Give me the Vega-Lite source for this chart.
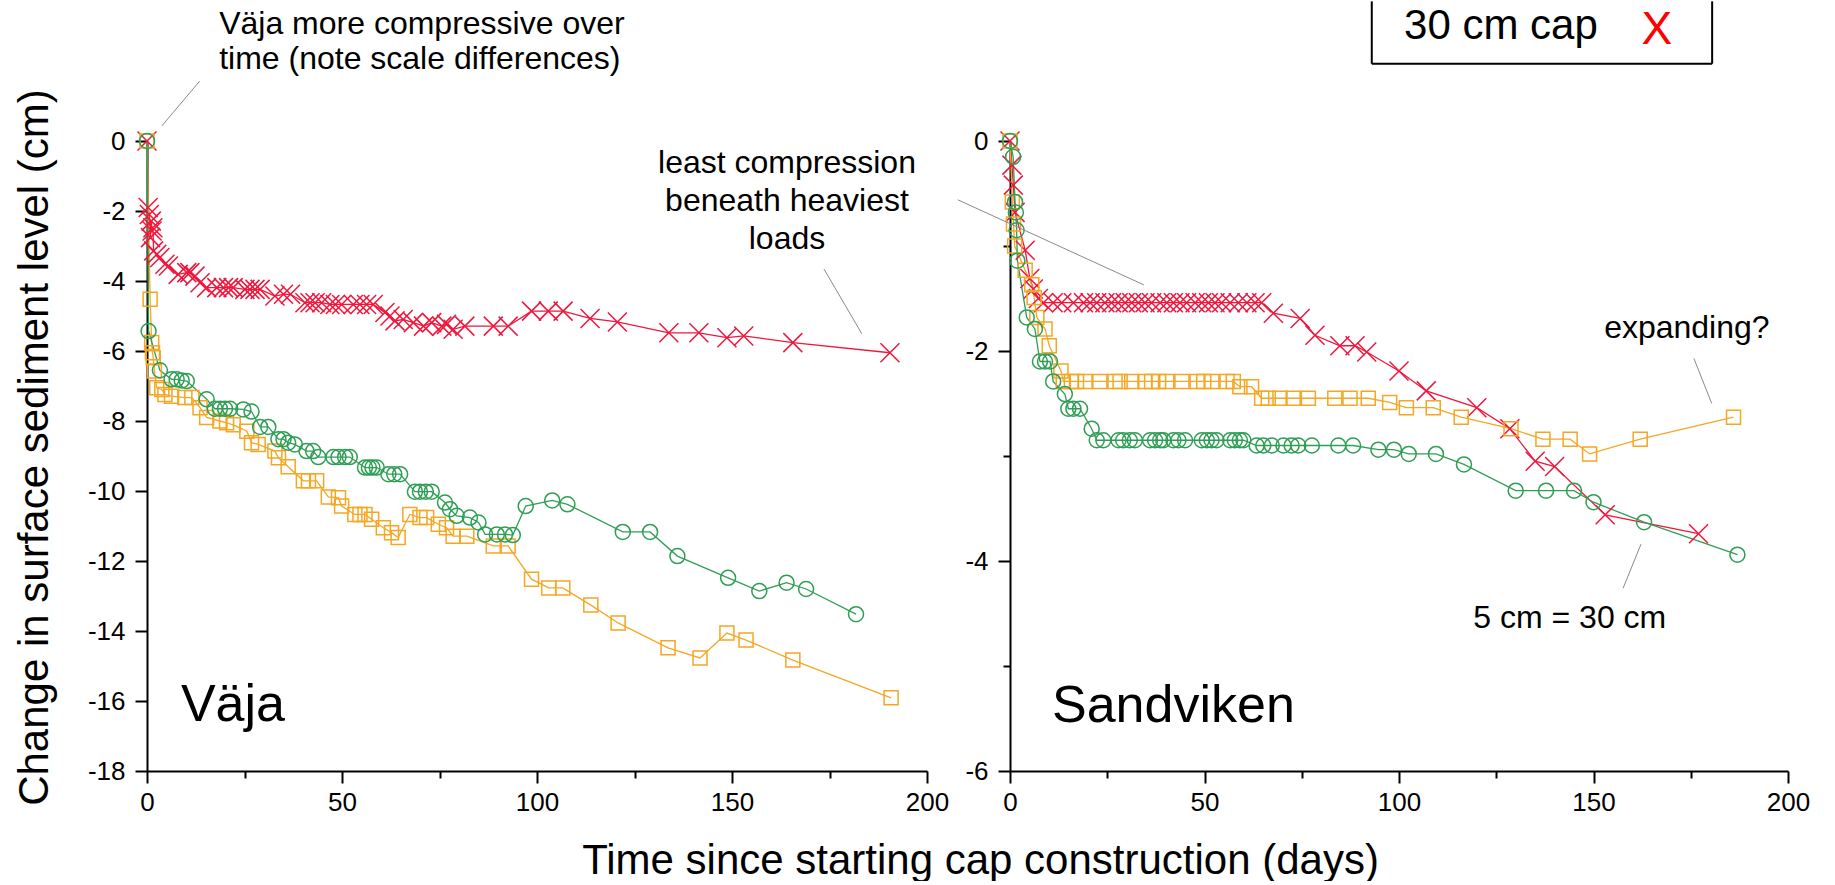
{
  "$schema": "https://vega.github.io/schema/vega-lite/v6.json",
  "background": "white",
  "padding": {"left": 12, "top": 0, "right": 5, "bottom": 0},
  "spacing": 83,
  "bounds": "flush",
  "config": {
    "font": "Liberation Sans",
    "view": {"stroke": null},
    "axis": {
      "domainColor": "#000", "domainWidth": 2, "tickColor": "#000", "tickWidth": 2,
      "labelFont": "Liberation Sans", "labelFontSize": 26, "labelColor": "#000",
      "titleFont": "Liberation Sans", "titleFontSize": 42, "titleFontWeight": "normal", "titleColor": "#000",
      "grid": false, "labelFlush": false, "labelOverlap": false
    },
    "axisX": {"labelPadding": 6},
    "axisY": {"labelPadding": 10}
  },
  "datasets": {
    "vaja": [
      {"cap":"30 cm","day":0,"cm":0},{"cap":"30 cm","day":0.3,"cm":-1.9},{"cap":"30 cm","day":0.6,"cm":-2.1},{"cap":"30 cm","day":0.9,"cm":-2.76},{"cap":"30 cm","day":1.1,"cm":-2.29},{"cap":"30 cm","day":1.3,"cm":-2.57},{"cap":"30 cm","day":1.5,"cm":-2.48},{"cap":"30 cm","day":1.7,"cm":-3.14},{"cap":"30 cm","day":2.5,"cm":-3.24},{"cap":"30 cm","day":3.3,"cm":-3.33},{"cap":"30 cm","day":4.6,"cm":-3.52},{"cap":"30 cm","day":5.5,"cm":-3.57},{"cap":"30 cm","day":8,"cm":-3.81},{"cap":"30 cm","day":10.2,"cm":-3.76},{"cap":"30 cm","day":11,"cm":-3.76},{"cap":"30 cm","day":12.3,"cm":-3.86},{"cap":"30 cm","day":13.6,"cm":-4.05},{"cap":"30 cm","day":15.3,"cm":-4.19},{"cap":"30 cm","day":17.9,"cm":-4.19},{"cap":"30 cm","day":19.6,"cm":-4.19},{"cap":"30 cm","day":20.9,"cm":-4.19},{"cap":"30 cm","day":22.1,"cm":-4.19},{"cap":"30 cm","day":25.1,"cm":-4.24},{"cap":"30 cm","day":26.4,"cm":-4.24},{"cap":"30 cm","day":27.7,"cm":-4.24},{"cap":"30 cm","day":29,"cm":-4.24},{"cap":"30 cm","day":32.8,"cm":-4.43},{"cap":"30 cm","day":35,"cm":-4.38},{"cap":"30 cm","day":36.8,"cm":-4.38},{"cap":"30 cm","day":40.5,"cm":-4.62},{"cap":"30 cm","day":41.8,"cm":-4.62},{"cap":"30 cm","day":43.1,"cm":-4.62},{"cap":"30 cm","day":44.8,"cm":-4.62},{"cap":"30 cm","day":46.9,"cm":-4.67},{"cap":"30 cm","day":48.3,"cm":-4.67},{"cap":"30 cm","day":49.9,"cm":-4.67},{"cap":"30 cm","day":52.9,"cm":-4.67},{"cap":"30 cm","day":54.6,"cm":-4.67},{"cap":"30 cm","day":56.3,"cm":-4.67},{"cap":"30 cm","day":58,"cm":-4.67},{"cap":"30 cm","day":61,"cm":-4.9},{"cap":"30 cm","day":62.3,"cm":-5.0},{"cap":"30 cm","day":63.6,"cm":-5.14},{"cap":"30 cm","day":65.7,"cm":-5.1},{"cap":"30 cm","day":68.3,"cm":-5.19},{"cap":"30 cm","day":70.9,"cm":-5.29},{"cap":"30 cm","day":73,"cm":-5.19},{"cap":"30 cm","day":75.6,"cm":-5.29},{"cap":"30 cm","day":76.8,"cm":-5.24},{"cap":"30 cm","day":78.5,"cm":-5.38},{"cap":"30 cm","day":81.5,"cm":-5.29},{"cap":"30 cm","day":88.8,"cm":-5.29},{"cap":"30 cm","day":92.6,"cm":-5.29},{"cap":"30 cm","day":98.6,"cm":-4.86},{"cap":"30 cm","day":102.9,"cm":-4.86},{"cap":"30 cm","day":106.7,"cm":-4.86},{"cap":"30 cm","day":113.6,"cm":-5.07},{"cap":"30 cm","day":120.6,"cm":-5.17},{"cap":"30 cm","day":133.8,"cm":-5.48},{"cap":"30 cm","day":141.5,"cm":-5.48},{"cap":"30 cm","day":148.7,"cm":-5.62},{"cap":"30 cm","day":153,"cm":-5.57},{"cap":"30 cm","day":165.6,"cm":-5.76},{"cap":"30 cm","day":190.5,"cm":-6.05},
      {"cap":"15 cm","day":0,"cm":0},{"cap":"15 cm","day":0.8,"cm":-4.52},{"cap":"15 cm","day":1.2,"cm":-5.76},{"cap":"15 cm","day":1.4,"cm":-6.05},{"cap":"15 cm","day":1.6,"cm":-6.19},{"cap":"15 cm","day":1.9,"cm":-6.57},{"cap":"15 cm","day":2.5,"cm":-7.05},{"cap":"15 cm","day":3.8,"cm":-7.1},{"cap":"15 cm","day":4.6,"cm":-7.24},{"cap":"15 cm","day":6.3,"cm":-7.29},{"cap":"15 cm","day":9.7,"cm":-7.33},{"cap":"15 cm","day":11.5,"cm":-7.33},{"cap":"15 cm","day":13.6,"cm":-7.62},{"cap":"15 cm","day":15.3,"cm":-7.9},{"cap":"15 cm","day":18.7,"cm":-8.0},{"cap":"15 cm","day":20.4,"cm":-8.05},{"cap":"15 cm","day":22.1,"cm":-8.11},{"cap":"15 cm","day":25.6,"cm":-8.29},{"cap":"15 cm","day":26.8,"cm":-8.62},{"cap":"15 cm","day":28.5,"cm":-8.67},{"cap":"15 cm","day":32.8,"cm":-8.86},{"cap":"15 cm","day":33.7,"cm":-9.05},{"cap":"15 cm","day":36.2,"cm":-9.31},{"cap":"15 cm","day":40.1,"cm":-9.71},{"cap":"15 cm","day":41.4,"cm":-9.71},{"cap":"15 cm","day":43.5,"cm":-9.71},{"cap":"15 cm","day":46.5,"cm":-10.17},{"cap":"15 cm","day":49.1,"cm":-10.19},{"cap":"15 cm","day":49.9,"cm":-10.43},{"cap":"15 cm","day":53.3,"cm":-10.67},{"cap":"15 cm","day":54.6,"cm":-10.67},{"cap":"15 cm","day":55.9,"cm":-10.67},{"cap":"15 cm","day":57.6,"cm":-10.81},{"cap":"15 cm","day":60.6,"cm":-11.05},{"cap":"15 cm","day":62.7,"cm":-11.19},{"cap":"15 cm","day":64.4,"cm":-11.33},{"cap":"15 cm","day":67.4,"cm":-10.67},{"cap":"15 cm","day":70,"cm":-10.76},{"cap":"15 cm","day":71.7,"cm":-10.76},{"cap":"15 cm","day":74.7,"cm":-10.95},{"cap":"15 cm","day":76.8,"cm":-11.05},{"cap":"15 cm","day":78.5,"cm":-11.29},{"cap":"15 cm","day":82,"cm":-11.29},{"cap":"15 cm","day":88.8,"cm":-11.57},{"cap":"15 cm","day":92.6,"cm":-11.57},{"cap":"15 cm","day":98.6,"cm":-12.52},{"cap":"15 cm","day":103,"cm":-12.77},{"cap":"15 cm","day":106.6,"cm":-12.77},{"cap":"15 cm","day":113.8,"cm":-13.26},{"cap":"15 cm","day":120.8,"cm":-13.77},{"cap":"15 cm","day":133.6,"cm":-14.48},{"cap":"15 cm","day":141.8,"cm":-14.77},{"cap":"15 cm","day":148.7,"cm":-14.06},{"cap":"15 cm","day":153.6,"cm":-14.26},{"cap":"15 cm","day":165.6,"cm":-14.83},{"cap":"15 cm","day":190.8,"cm":-15.91},
      {"cap":"5 cm","day":0,"cm":0},{"cap":"5 cm","day":0.4,"cm":-5.43},{"cap":"5 cm","day":3.3,"cm":-6.55},{"cap":"5 cm","day":6.3,"cm":-6.81},{"cap":"5 cm","day":7.6,"cm":-6.81},{"cap":"5 cm","day":8.9,"cm":-6.84},{"cap":"5 cm","day":10.2,"cm":-6.86},{"cap":"5 cm","day":15.3,"cm":-7.38},{"cap":"5 cm","day":17.4,"cm":-7.65},{"cap":"5 cm","day":18.7,"cm":-7.65},{"cap":"5 cm","day":20,"cm":-7.65},{"cap":"5 cm","day":21.3,"cm":-7.65},{"cap":"5 cm","day":24.7,"cm":-7.67},{"cap":"5 cm","day":26.8,"cm":-7.73},{"cap":"5 cm","day":29,"cm":-8.17},{"cap":"5 cm","day":31.1,"cm":-8.17},{"cap":"5 cm","day":33.7,"cm":-8.52},{"cap":"5 cm","day":35,"cm":-8.52},{"cap":"5 cm","day":36.2,"cm":-8.62},{"cap":"5 cm","day":37.9,"cm":-8.67},{"cap":"5 cm","day":40.9,"cm":-8.86},{"cap":"5 cm","day":42.6,"cm":-8.86},{"cap":"5 cm","day":43.9,"cm":-9.03},{"cap":"5 cm","day":47.8,"cm":-9.03},{"cap":"5 cm","day":49.1,"cm":-9.03},{"cap":"5 cm","day":50.8,"cm":-9.03},{"cap":"5 cm","day":52,"cm":-9.03},{"cap":"5 cm","day":55.9,"cm":-9.33},{"cap":"5 cm","day":56.9,"cm":-9.33},{"cap":"5 cm","day":57.8,"cm":-9.33},{"cap":"5 cm","day":58.9,"cm":-9.33},{"cap":"5 cm","day":61.9,"cm":-9.52},{"cap":"5 cm","day":63.4,"cm":-9.52},{"cap":"5 cm","day":64.9,"cm":-9.52},{"cap":"5 cm","day":68.7,"cm":-10.02},{"cap":"5 cm","day":70,"cm":-10.02},{"cap":"5 cm","day":71.5,"cm":-10.02},{"cap":"5 cm","day":73,"cm":-10.02},{"cap":"5 cm","day":76.4,"cm":-10.33},{"cap":"5 cm","day":77.7,"cm":-10.52},{"cap":"5 cm","day":79.4,"cm":-10.71},{"cap":"5 cm","day":82.8,"cm":-10.76},{"cap":"5 cm","day":85,"cm":-10.9},{"cap":"5 cm","day":86.7,"cm":-11.24},{"cap":"5 cm","day":89.7,"cm":-11.24},{"cap":"5 cm","day":91.8,"cm":-11.24},{"cap":"5 cm","day":93.8,"cm":-11.26},{"cap":"5 cm","day":97.1,"cm":-10.43},{"cap":"5 cm","day":103.9,"cm":-10.27},{"cap":"5 cm","day":107.8,"cm":-10.38},{"cap":"5 cm","day":122,"cm":-11.17},{"cap":"5 cm","day":129,"cm":-11.17},{"cap":"5 cm","day":136,"cm":-11.86},{"cap":"5 cm","day":149,"cm":-12.48},{"cap":"5 cm","day":157,"cm":-12.86},{"cap":"5 cm","day":164,"cm":-12.62},{"cap":"5 cm","day":169,"cm":-12.8},{"cap":"5 cm","day":181.8,"cm":-13.52}
    ],
    "sandviken": [
      {"cap":"30 cm","day":0,"cm":0},{"cap":"30 cm","day":0.5,"cm":-0.23},{"cap":"30 cm","day":0.85,"cm":-0.42},{"cap":"30 cm","day":1.3,"cm":-0.68},{"cap":"30 cm","day":3.9,"cm":-1.04},{"cap":"30 cm","day":5.1,"cm":-1.31},{"cap":"30 cm","day":6,"cm":-1.41},{"cap":"30 cm","day":7.3,"cm":-1.5},{"cap":"30 cm","day":8.6,"cm":-1.54},{"cap":"30 cm","day":11.1,"cm":-1.54},{"cap":"30 cm","day":13.3,"cm":-1.54},{"cap":"30 cm","day":16.3,"cm":-1.54},{"cap":"30 cm","day":18.9,"cm":-1.54},{"cap":"30 cm","day":20.6,"cm":-1.54},{"cap":"30 cm","day":22.3,"cm":-1.54},{"cap":"30 cm","day":24.4,"cm":-1.54},{"cap":"30 cm","day":26.1,"cm":-1.54},{"cap":"30 cm","day":27.8,"cm":-1.54},{"cap":"30 cm","day":29.6,"cm":-1.54},{"cap":"30 cm","day":31.3,"cm":-1.54},{"cap":"30 cm","day":33,"cm":-1.54},{"cap":"30 cm","day":34.7,"cm":-1.54},{"cap":"30 cm","day":36.4,"cm":-1.54},{"cap":"30 cm","day":38.6,"cm":-1.54},{"cap":"30 cm","day":40.3,"cm":-1.54},{"cap":"30 cm","day":42,"cm":-1.54},{"cap":"30 cm","day":43.7,"cm":-1.54},{"cap":"30 cm","day":45.4,"cm":-1.54},{"cap":"30 cm","day":47.6,"cm":-1.54},{"cap":"30 cm","day":49.3,"cm":-1.54},{"cap":"30 cm","day":51,"cm":-1.54},{"cap":"30 cm","day":52.7,"cm":-1.54},{"cap":"30 cm","day":54.4,"cm":-1.54},{"cap":"30 cm","day":56.6,"cm":-1.54},{"cap":"30 cm","day":58.7,"cm":-1.54},{"cap":"30 cm","day":60.9,"cm":-1.54},{"cap":"30 cm","day":63,"cm":-1.54},{"cap":"30 cm","day":64.7,"cm":-1.54},{"cap":"30 cm","day":67.7,"cm":-1.64},{"cap":"30 cm","day":74.6,"cm":-1.69},{"cap":"30 cm","day":78.4,"cm":-1.85},{"cap":"30 cm","day":84.8,"cm":-1.95},{"cap":"30 cm","day":88.7,"cm":-1.95},{"cap":"30 cm","day":91.7,"cm":-2.01},{"cap":"30 cm","day":100,"cm":-2.19},{"cap":"30 cm","day":107,"cm":-2.38},{"cap":"30 cm","day":120,"cm":-2.54},{"cap":"30 cm","day":128.5,"cm":-2.74},{"cap":"30 cm","day":135,"cm":-3.05},{"cap":"30 cm","day":140,"cm":-3.1},{"cap":"30 cm","day":153,"cm":-3.56},{"cap":"30 cm","day":177,"cm":-3.74},
      {"cap":"15 cm","day":0,"cm":0},{"cap":"15 cm","day":0.6,"cm":-0.58},{"cap":"15 cm","day":0.9,"cm":-0.79},{"cap":"15 cm","day":1.2,"cm":-1.0},{"cap":"15 cm","day":3.9,"cm":-1.23},{"cap":"15 cm","day":5.6,"cm":-1.37},{"cap":"15 cm","day":6.2,"cm":-1.49},{"cap":"15 cm","day":6.9,"cm":-1.68},{"cap":"15 cm","day":9,"cm":-1.79},{"cap":"15 cm","day":10.1,"cm":-1.95},{"cap":"15 cm","day":13.1,"cm":-2.19},{"cap":"15 cm","day":13.7,"cm":-2.29},{"cap":"15 cm","day":15.8,"cm":-2.29},{"cap":"15 cm","day":17.1,"cm":-2.29},{"cap":"15 cm","day":19.3,"cm":-2.29},{"cap":"15 cm","day":23.1,"cm":-2.29},{"cap":"15 cm","day":27,"cm":-2.29},{"cap":"15 cm","day":28.3,"cm":-2.29},{"cap":"15 cm","day":31.3,"cm":-2.29},{"cap":"15 cm","day":34.7,"cm":-2.29},{"cap":"15 cm","day":36.4,"cm":-2.29},{"cap":"15 cm","day":38.2,"cm":-2.29},{"cap":"15 cm","day":40.3,"cm":-2.29},{"cap":"15 cm","day":44.2,"cm":-2.29},{"cap":"15 cm","day":48.1,"cm":-2.29},{"cap":"15 cm","day":49.8,"cm":-2.29},{"cap":"15 cm","day":51.9,"cm":-2.29},{"cap":"15 cm","day":55.8,"cm":-2.29},{"cap":"15 cm","day":57.4,"cm":-2.29},{"cap":"15 cm","day":59.1,"cm":-2.34},{"cap":"15 cm","day":62.1,"cm":-2.34},{"cap":"15 cm","day":64.7,"cm":-2.45},{"cap":"15 cm","day":66.4,"cm":-2.45},{"cap":"15 cm","day":69.4,"cm":-2.45},{"cap":"15 cm","day":72.8,"cm":-2.45},{"cap":"15 cm","day":76.7,"cm":-2.45},{"cap":"15 cm","day":83.5,"cm":-2.45},{"cap":"15 cm","day":87.4,"cm":-2.45},{"cap":"15 cm","day":92.1,"cm":-2.45},{"cap":"15 cm","day":97.6,"cm":-2.49},{"cap":"15 cm","day":101.9,"cm":-2.54},{"cap":"15 cm","day":108.8,"cm":-2.54},{"cap":"15 cm","day":116,"cm":-2.63},{"cap":"15 cm","day":128.8,"cm":-2.74},{"cap":"15 cm","day":137,"cm":-2.84},{"cap":"15 cm","day":144,"cm":-2.84},{"cap":"15 cm","day":149,"cm":-2.98},{"cap":"15 cm","day":162,"cm":-2.84},{"cap":"15 cm","day":186,"cm":-2.63},
      {"cap":"5 cm","day":0,"cm":0},{"cap":"5 cm","day":0.8,"cm":-0.15},{"cap":"5 cm","day":1.3,"cm":-0.58},{"cap":"5 cm","day":1.5,"cm":-0.68},{"cap":"5 cm","day":1.7,"cm":-0.85},{"cap":"5 cm","day":1.9,"cm":-1.14},{"cap":"5 cm","day":4.3,"cm":-1.68},{"cap":"5 cm","day":6.4,"cm":-1.79},{"cap":"5 cm","day":7.7,"cm":-2.1},{"cap":"5 cm","day":9,"cm":-2.1},{"cap":"5 cm","day":10.3,"cm":-2.1},{"cap":"5 cm","day":11.1,"cm":-2.29},{"cap":"5 cm","day":14.1,"cm":-2.41},{"cap":"5 cm","day":15,"cm":-2.55},{"cap":"5 cm","day":16.3,"cm":-2.55},{"cap":"5 cm","day":18,"cm":-2.55},{"cap":"5 cm","day":21,"cm":-2.74},{"cap":"5 cm","day":22.3,"cm":-2.85},{"cap":"5 cm","day":24,"cm":-2.85},{"cap":"5 cm","day":27.9,"cm":-2.85},{"cap":"5 cm","day":29.1,"cm":-2.85},{"cap":"5 cm","day":30.8,"cm":-2.85},{"cap":"5 cm","day":32.1,"cm":-2.85},{"cap":"5 cm","day":36,"cm":-2.85},{"cap":"5 cm","day":37.3,"cm":-2.85},{"cap":"5 cm","day":38.6,"cm":-2.85},{"cap":"5 cm","day":39.4,"cm":-2.85},{"cap":"5 cm","day":42,"cm":-2.85},{"cap":"5 cm","day":43.3,"cm":-2.85},{"cap":"5 cm","day":45,"cm":-2.85},{"cap":"5 cm","day":49.3,"cm":-2.85},{"cap":"5 cm","day":50.6,"cm":-2.85},{"cap":"5 cm","day":51.8,"cm":-2.85},{"cap":"5 cm","day":53.1,"cm":-2.85},{"cap":"5 cm","day":56.6,"cm":-2.85},{"cap":"5 cm","day":57.8,"cm":-2.85},{"cap":"5 cm","day":59.1,"cm":-2.85},{"cap":"5 cm","day":60,"cm":-2.85},{"cap":"5 cm","day":63.4,"cm":-2.9},{"cap":"5 cm","day":65.1,"cm":-2.9},{"cap":"5 cm","day":67.3,"cm":-2.9},{"cap":"5 cm","day":70.3,"cm":-2.9},{"cap":"5 cm","day":72.4,"cm":-2.9},{"cap":"5 cm","day":74.1,"cm":-2.9},{"cap":"5 cm","day":77.6,"cm":-2.9},{"cap":"5 cm","day":84.4,"cm":-2.9},{"cap":"5 cm","day":88.2,"cm":-2.9},{"cap":"5 cm","day":94.7,"cm":-2.94},{"cap":"5 cm","day":98.7,"cm":-2.94},{"cap":"5 cm","day":102.5,"cm":-2.98},{"cap":"5 cm","day":109.5,"cm":-2.98},{"cap":"5 cm","day":116.7,"cm":-3.08},{"cap":"5 cm","day":130,"cm":-3.33},{"cap":"5 cm","day":137.8,"cm":-3.33},{"cap":"5 cm","day":145,"cm":-3.33},{"cap":"5 cm","day":150,"cm":-3.44},{"cap":"5 cm","day":163,"cm":-3.63},{"cap":"5 cm","day":187,"cm":-3.94}
    ]
  },
  "hconcat": [
    {
      "width": 780,
      "height": 630,
      "layer": [
        {
          "data": {"name": "vaja"},
          "mark": {"type": "line", "strokeWidth": 1.3},
          "encoding": {
            "x": {"field": "day", "type": "quantitative",
              "scale": {"domain": [0, 200], "nice": false, "zero": false},
              "axis": {"values": [0,25,50,75,100,125,150,175,200],
                "labelExpr": "datum.value % 50 === 0 ? '' + datum.value : ''",
                "tickSize": {"condition": {"test": "datum.value % 50 === 0", "value": 12}, "value": 7},
                "title": "Time since starting cap construction (days)",
                "titleX": 833, "titleY": 102, "titleAlign": "center", "titleBaseline": "alphabetic", "titleAnchor": null}},
            "y": {"field": "cm", "type": "quantitative",
              "scale": {"domain": [-18, 0], "nice": false, "zero": false},
              "axis": {"values": [-18,-17,-16,-15,-14,-13,-12,-11,-10,-9,-8,-7,-6,-5,-4,-3,-2,-1,0],
                "labelExpr": "datum.value % 2 === 0 ? '' + datum.value : ''",
                "tickSize": {"condition": {"test": "datum.value % 2 === 0", "value": 12}, "value": 7},
                "title": "Change in surface sediment level (cm)",
                "titleAngle": 270, "titleX": -100, "titleY": 306, "titleAlign": "center", "titleBaseline": "alphabetic"}},
            "color": {"field": "cap", "type": "nominal",
              "scale": {"domain": ["5 cm", "15 cm", "30 cm"], "range": ["#2f9e55", "#f5a623", "#f0163c"]}, "legend": null}
          }
        },
        {
          "data": {"name": "vaja"},
          "mark": {"type": "point", "filled": false, "strokeWidth": 1.5, "opacity": 1},
          "encoding": {
            "x": {"field": "day", "type": "quantitative"},
            "y": {"field": "cm", "type": "quantitative"},
            "color": {"field": "cap", "type": "nominal", "legend": null},
            "shape": {"field": "cap", "type": "nominal",
              "scale": {"domain": ["5 cm", "15 cm", "30 cm"], "range": ["circle", "square", "M-1,-1L1,1M-1,1L1,-1"]}, "legend": null},
            "size": {"condition": [{"test": "datum.cap === '30 cm'", "value": 361}, {"test": "datum.cap === '5 cm'", "value": 225}], "value": 196}
          }
        },
        {
          "data": {"values": [
            {"day": 13.5, "cm": 1.71, "day2": 3.8, "cm2": 0.43},
            {"day": 173.6, "cm": -3.66, "day2": 183.3, "cm2": -5.51}
          ]},
          "mark": {"type": "rule", "color": "#8a8a8a", "strokeWidth": 1},
          "encoding": {
            "x": {"field": "day", "type": "quantitative"},
            "y": {"field": "cm", "type": "quantitative"},
            "x2": {"field": "day2"},
            "y2": {"field": "cm2"}
          }
        },
        {
          "data": {"values": [
            {"day": 18.5, "cm": 3.06, "note": ["Väja more compressive over", "time (note scale differences)"]}
          ]},
          "mark": {"type": "text", "align": "left", "baseline": "alphabetic", "fontSize": 32, "lineHeight": 35, "color": "#000"},
          "encoding": {
            "x": {"field": "day", "type": "quantitative"},
            "y": {"field": "cm", "type": "quantitative"},
            "text": {"field": "note"}
          }
        },
        {
          "data": {"values": [
            {"day": 164.1, "cm": -0.905, "note": ["least compression", "beneath heaviest", "loads"]}
          ]},
          "mark": {"type": "text", "align": "center", "baseline": "alphabetic", "fontSize": 32, "lineHeight": 38.3, "color": "#000"},
          "encoding": {
            "x": {"field": "day", "type": "quantitative"},
            "y": {"field": "cm", "type": "quantitative"},
            "text": {"field": "note"}
          }
        },
        {
          "data": {"values": [{"day": 8.7, "cm": -16.57, "note": "Väja"}]},
          "mark": {"type": "text", "align": "left", "baseline": "alphabetic", "fontSize": 52, "color": "#000"},
          "encoding": {
            "x": {"field": "day", "type": "quantitative"},
            "y": {"field": "cm", "type": "quantitative"},
            "text": {"field": "note"}
          }
        }
      ]
    },
    {
      "width": 778,
      "height": 630,
      "layer": [
        {
          "data": {"values": [{"day": 93, "cm": 0.736, "day2": 180.5, "cm2": 1.33}]},
          "mark": {"type": "rect", "fill": "white"},
          "encoding": {
            "x": {"field": "day", "type": "quantitative",
              "scale": {"domain": [0, 200], "nice": false, "zero": false},
              "axis": {"values": [0,25,50,75,100,125,150,175,200],
                "labelExpr": "datum.value % 50 === 0 ? '' + datum.value : ''",
                "tickSize": {"condition": {"test": "datum.value % 50 === 0", "value": 12}, "value": 7},
                "title": null}},
            "y": {"field": "cm", "type": "quantitative",
              "scale": {"domain": [-6, 0], "nice": false, "zero": false},
              "axis": {"values": [-6,-5,-4,-3,-2,-1,0],
                "labelExpr": "datum.value % 2 === 0 ? '' + datum.value : ''",
                "tickSize": {"condition": {"test": "datum.value % 2 === 0", "value": 12}, "value": 7},
                "title": null}},
            "x2": {"field": "day2"},
            "y2": {"field": "cm2"}
          }
        },
        {
          "data": {"values": [
            {"day": 93, "cm": 0.736, "day2": 93, "cm2": 1.33},
            {"day": 180.5, "cm": 0.736, "day2": 180.5, "cm2": 1.33},
            {"day": 93, "cm": 0.736, "day2": 180.5, "cm2": 0.736}
          ]},
          "mark": {"type": "rule", "color": "#000", "strokeWidth": 2},
          "encoding": {
            "x": {"field": "day", "type": "quantitative"},
            "y": {"field": "cm", "type": "quantitative"},
            "x2": {"field": "day2"},
            "y2": {"field": "cm2"}
          }
        },
        {
          "data": {"name": "sandviken"},
          "mark": {"type": "line", "strokeWidth": 1.3},
          "encoding": {
            "x": {"field": "day", "type": "quantitative"},
            "y": {"field": "cm", "type": "quantitative"},
            "color": {"field": "cap", "type": "nominal",
              "scale": {"domain": ["5 cm", "15 cm", "30 cm"], "range": ["#2f9e55", "#f5a623", "#f0163c"]}, "legend": null}
          }
        },
        {
          "data": {"name": "sandviken"},
          "mark": {"type": "point", "filled": false, "strokeWidth": 1.5, "opacity": 1},
          "encoding": {
            "x": {"field": "day", "type": "quantitative"},
            "y": {"field": "cm", "type": "quantitative"},
            "color": {"field": "cap", "type": "nominal", "legend": null},
            "shape": {"field": "cap", "type": "nominal",
              "scale": {"domain": ["5 cm", "15 cm", "30 cm"], "range": ["circle", "square", "M-1,-1L1,1M-1,1L1,-1"]}, "legend": null},
            "size": {"condition": [{"test": "datum.cap === '30 cm'", "value": 361}, {"test": "datum.cap === '5 cm'", "value": 225}], "value": 196}
          }
        },
        {
          "data": {"values": [
            {"day": -13.4, "cm": -0.56, "day2": 34.4, "cm2": -1.37},
            {"day": 175.8, "cm": -2.07, "day2": 180.4, "cm2": -2.5},
            {"day": 162.2, "cm": -3.84, "day2": 157.6, "cm2": -4.26}
          ]},
          "mark": {"type": "rule", "color": "#8a8a8a", "strokeWidth": 1},
          "encoding": {
            "x": {"field": "day", "type": "quantitative"},
            "y": {"field": "cm", "type": "quantitative"},
            "x2": {"field": "day2"},
            "y2": {"field": "cm2"}
          }
        },
        {
          "data": {"values": [
            {"day": 174, "cm": -1.88, "note": "expanding?"},
            {"day": 143.9, "cm": -4.64, "note": "5 cm = 30 cm"}
          ]},
          "mark": {"type": "text", "align": "center", "baseline": "alphabetic", "fontSize": 32, "color": "#000"},
          "encoding": {
            "x": {"field": "day", "type": "quantitative"},
            "y": {"field": "cm", "type": "quantitative"},
            "text": {"field": "note"}
          }
        },
        {
          "data": {"values": [{"day": 10.8, "cm": -5.53, "note": "Sandviken"}]},
          "mark": {"type": "text", "align": "left", "baseline": "alphabetic", "fontSize": 52, "color": "#000"},
          "encoding": {
            "x": {"field": "day", "type": "quantitative"},
            "y": {"field": "cm", "type": "quantitative"},
            "text": {"field": "note"}
          }
        },
        {
          "data": {"values": [{"day": 101.3, "cm": 0.969, "note": "30 cm cap"}]},
          "mark": {"type": "text", "align": "left", "baseline": "alphabetic", "fontSize": 42, "color": "#000"},
          "encoding": {
            "x": {"field": "day", "type": "quantitative"},
            "y": {"field": "cm", "type": "quantitative"},
            "text": {"field": "note"}
          }
        },
        {
          "data": {"values": [{"day": 166.3, "cm": 0.927, "note": "X"}]},
          "mark": {"type": "text", "align": "center", "baseline": "alphabetic", "fontSize": 46, "color": "#ff0000"},
          "encoding": {
            "x": {"field": "day", "type": "quantitative"},
            "y": {"field": "cm", "type": "quantitative"},
            "text": {"field": "note"}
          }
        }
      ]
    }
  ]
}
